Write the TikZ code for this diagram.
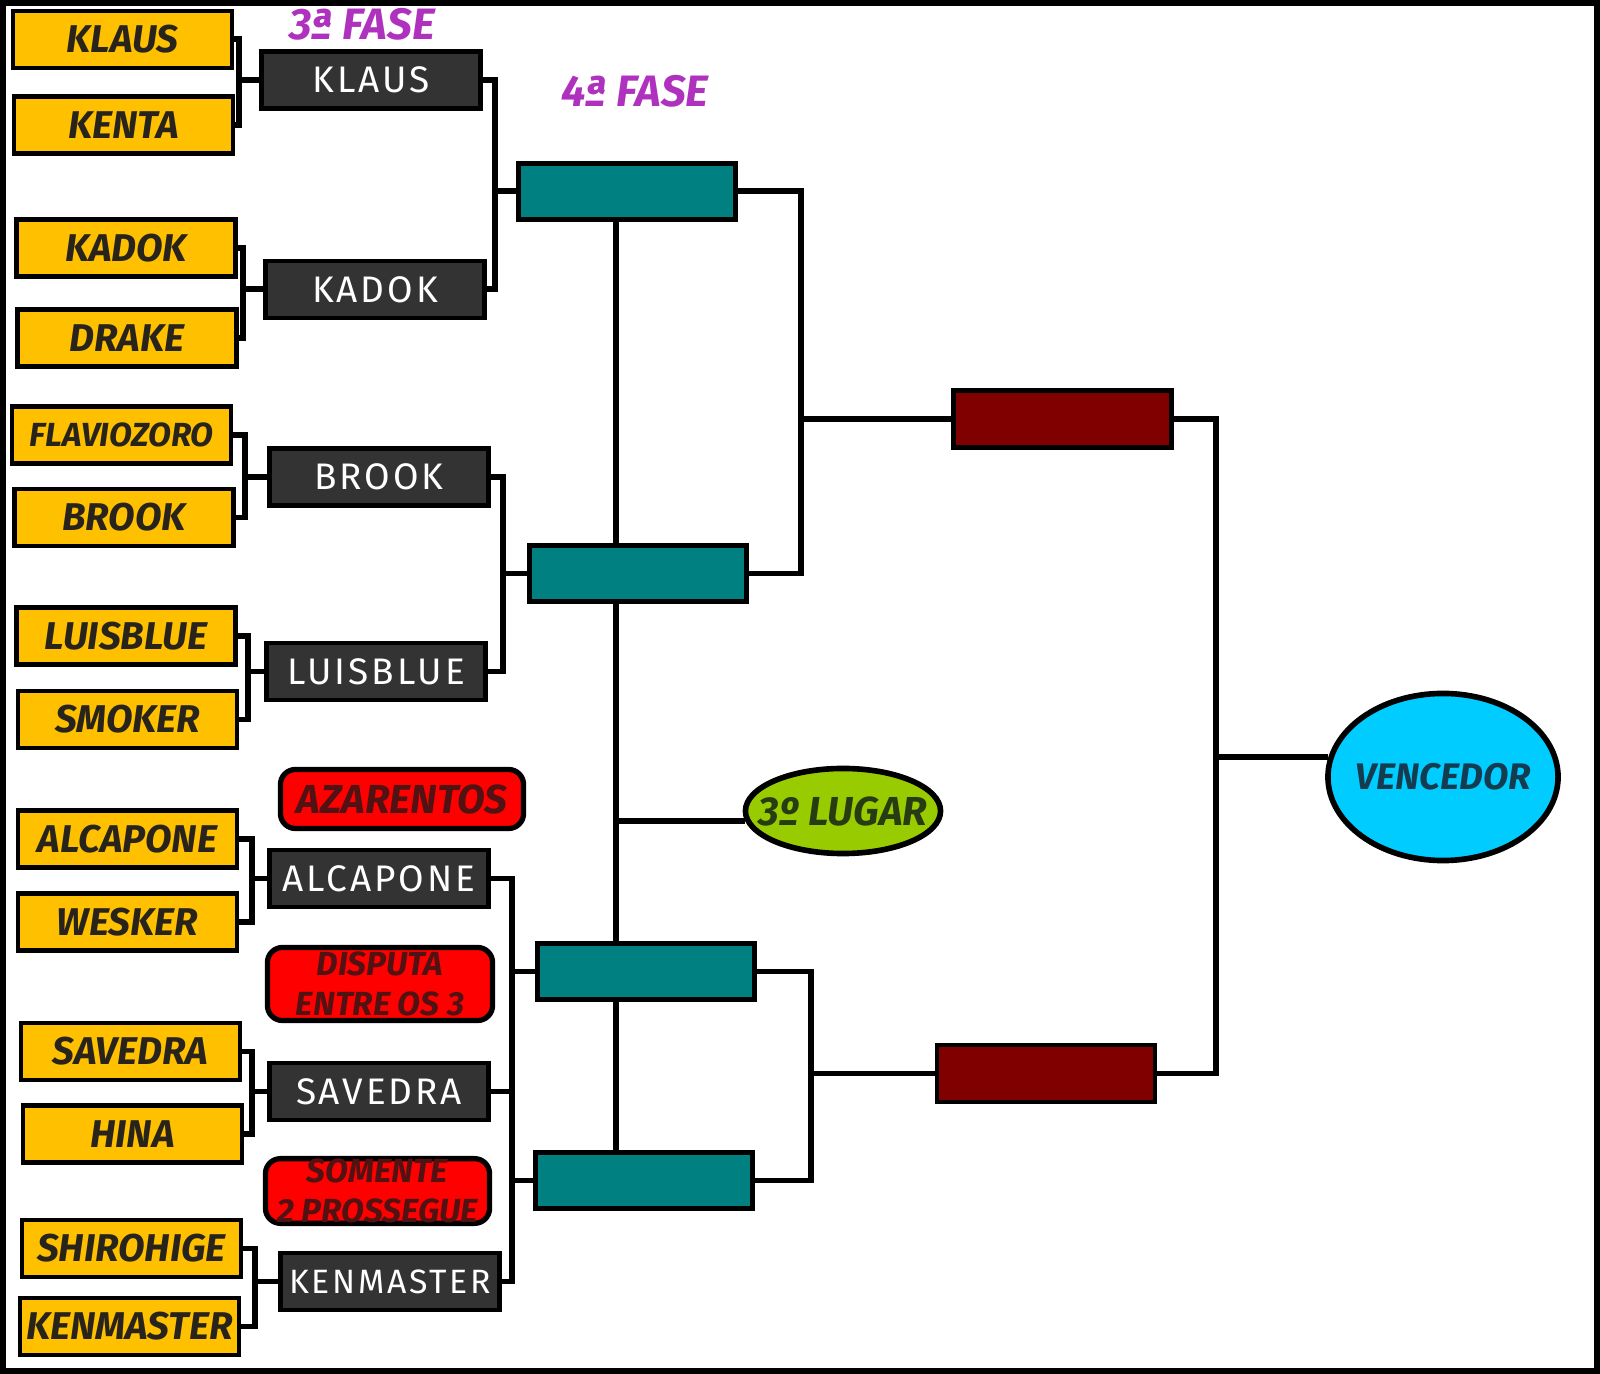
\documentclass[tikz,border=0pt]{standalone}
\usepackage{fontspec}
\setmainfont{Fira Sans}
\newfontfamily\widefont[LetterSpace=8]{Fira Sans}
\usetikzlibrary{shapes.geometric}
\definecolor{gold}{RGB}{255,192,0}
\definecolor{slate}{RGB}{51,51,51}
\definecolor{alarm}{RGB}{255,0,0}
\definecolor{rust}{RGB}{80,18,18}
\definecolor{lagoon}{RGB}{0,128,128}
\definecolor{wine}{RGB}{128,0,0}
\definecolor{lime}{RGB}{153,204,0}
\definecolor{sky}{RGB}{0,204,255}
\definecolor{plum}{RGB}{175,50,190}
\definecolor{ink}{RGB}{40,36,28}

\begin{document}
\begin{tikzpicture}[x=0.01cm,y=-0.01cm,
    playerbox/.style={rectangle,draw,line width=1.2pt,fill=gold,minimum width=2.19cm,minimum height=0.57cm,inner sep=0pt,text=ink,font=\bfseries\itshape\fontsize{11}{13}\selectfont},
    winnerbox/.style={rectangle,draw,line width=1.3pt,fill=slate,minimum width=2.19cm,minimum height=0.57cm,inner sep=0pt,text=white,font=\widefont\fontsize{10.5}{12}\selectfont},
    notebox/.style={rectangle,rounded corners=0.15cm,draw,line width=1.5pt,fill=alarm,inner sep=0pt,align=center,text=rust,font=\bfseries\itshape\fontsize{9.5}{11.5}\selectfont},
    semibox/.style={rectangle,draw,line width=1.3pt,fill=lagoon,minimum width=2.17cm,minimum height=0.56cm},
    finalbox/.style={rectangle,draw,line width=1.3pt,fill=wine,minimum width=2.18cm,minimum height=0.57cm},
    linkline/.style={line width=1.7pt},
    phaselabel/.style={text=plum,font=\bfseries\itshape\fontsize{12.5}{14}\selectfont}]
\useasboundingbox (0,0) rectangle (1600,1374);
\draw[line width=0.6mm] (3,3) rectangle (1597,1371);

\node[phaselabel] (f3) at (362,24) {3ª FASE};
\node[phaselabel] (f4) at (635,91) {4ª FASE};

\node[playerbox] (y1) at (122.5,39.5) {KLAUS};
\node[playerbox] (y2) at (123.5,125) {KENTA};
\node[playerbox] (y3) at (126,248) {KADOK};
\node[playerbox] (y4) at (127,338) {DRAKE};
\node[playerbox,font=\bfseries\itshape\fontsize{9.5}{11}\selectfont] (y5) at (121.5,435) {FLAVIOZORO};
\node[playerbox] (y6) at (124,517.5) {BROOK};
\node[playerbox] (y7) at (126,636) {LUISBLUE};
\node[playerbox] (y8) at (127.5,719.5) {SMOKER};
\node[playerbox] (y9) at (127.5,839) {ALCAPONE};
\node[playerbox] (y10) at (127.5,922) {WESKER};
\node[playerbox] (y11) at (130.5,1051.5) {SAVEDRA};
\node[playerbox] (y12) at (132.5,1134) {HINA};
\node[playerbox] (y13) at (131.5,1248.5) {SHIROHIGE};
\node[playerbox] (y14) at (129.5,1326.5) {KENMASTER};

\node[winnerbox] (d1) at (371,80) {KLAUS};
\node[winnerbox] (d2) at (375,289.5) {KADOK};
\node[winnerbox] (d3) at (379,477) {BROOK};
\node[winnerbox] (d4) at (376,671.5) {LUISBLUE};
\node[winnerbox] (d5) at (379,878.5) {ALCAPONE};
\node[winnerbox] (d6) at (379,1091.5) {SAVEDRA};
\node[winnerbox,font=\widefont\fontsize{9.6}{12}\selectfont] (d7) at (390,1281.5) {KENMASTER};

\node[notebox,minimum width=2.43cm,minimum height=0.59cm,font=\bfseries\itshape\fontsize{11.5}{13}\selectfont] (r1) at (402,799) {AZARENTOS};
\node[notebox,minimum width=2.25cm,minimum height=0.73cm] (r2) at (380,984) {DISPUTA\\ENTRE OS 3};
\node[notebox,minimum width=2.24cm,minimum height=0.61cm] (r3) at (377.5,1191) {SOMENTE\\2 PROSSEGUE};

\node[semibox] (t1) at (627,191.5) {};
\node[semibox] (t2) at (638,573.5) {};
\node[semibox] (t3) at (646,971.5) {};
\node[semibox] (t4) at (644,1180.5) {};

\node[finalbox] (m1) at (1062.5,419) {};
\node[finalbox] (m2) at (1046,1073.5) {};

\node[ellipse,draw,line width=1.6pt,fill=lime,minimum width=1.95cm,minimum height=0.85cm,inner sep=0pt,text={rgb,255:red,40;green,60;blue,20},font=\bfseries\itshape\fontsize{11.5}{13}\selectfont] (lugar) at (843,811) {\makebox[0pt]{3º LUGAR}};
\node[ellipse,draw,line width=1.6pt,fill=sky,minimum width=2.3cm,minimum height=1.67cm,inner sep=0pt,text={rgb,255:red,20;green,60;blue,80},font=\bfseries\itshape\fontsize{10.5}{12}\selectfont] (venc) at (1443,777) {\makebox[0pt]{VENCEDOR}};

\draw[linkline] (y1.east) -- ++(5,0) coordinate (b1) |- (y2.east);
\draw[linkline] (b1 |- d1.west) -- (d1.west);
\draw[linkline] (y3.east) -- ++(5,0) coordinate (b2) |- (y4.east);
\draw[linkline] (b2 |- d2.west) -- (d2.west);
\draw[linkline] (y5.east) -- ++(12,0) coordinate (b3) |- (y6.east);
\draw[linkline] (b3 |- d3.west) -- (d3.west);
\draw[linkline] (y7.east) -- ++(10,0) coordinate (b4) |- (y8.east);
\draw[linkline] (b4 |- d4.west) -- (d4.west);
\draw[linkline] (y9.east) -- ++(13,0) coordinate (b5) |- (y10.east);
\draw[linkline] (b5 |- d5.west) -- (d5.west);
\draw[linkline] (y11.east) -- ++(10,0) coordinate (b6) |- (y12.east);
\draw[linkline] (b6 |- d6.west) -- (d6.west);
\draw[linkline] (y13.east) -- ++(12,0) coordinate (b7) |- (y14.east);
\draw[linkline] (b7 |- d7.west) -- (d7.west);

\draw[linkline] (d1.east) -- ++(12,0) coordinate (c1) |- (d2.east);
\draw[linkline] (c1 |- t1.west) -- (t1.west);
\draw[linkline] (d3.east) -- ++(12,0) coordinate (c2) |- (d4.east);
\draw[linkline] (c2 |- t2.west) -- (t2.west);
\draw[linkline] (d5.east) -- ++(21,0) coordinate (c3) |- (d7.east);
\draw[linkline] (d6.east) -- (d6.east -| c3);
\draw[linkline] (c3 |- t3.west) -- (t3.west);
\draw[linkline] (c3 |- t4.west) -- (t4.west);

\coordinate (v) at (616,0);
\draw[linkline] (t1.south -| v) -- (t2.north -| v);
\draw[linkline] (t2.south -| v) -- (t3.north -| v);
\draw[linkline] (t3.south -| v) -- (t4.north -| v);
\draw[linkline] (lugar.186 -| v) -- (lugar.186);

\draw[linkline] (t1.east) -- ++(63,0) coordinate (e1) |- (t2.east);
\draw[linkline] (e1 |- m1.west) -- (m1.west);
\draw[linkline] (t3.east) -- ++(54,0) coordinate (e2) |- (t4.east);
\draw[linkline] (e2 |- m2.west) -- (m2.west);

\draw[linkline] (m1.east) -- ++(42,0) coordinate (g1) |- (m2.east);
\draw[linkline] (g1 |- venc.170) -- (venc.170);
\end{tikzpicture}
\end{document}
